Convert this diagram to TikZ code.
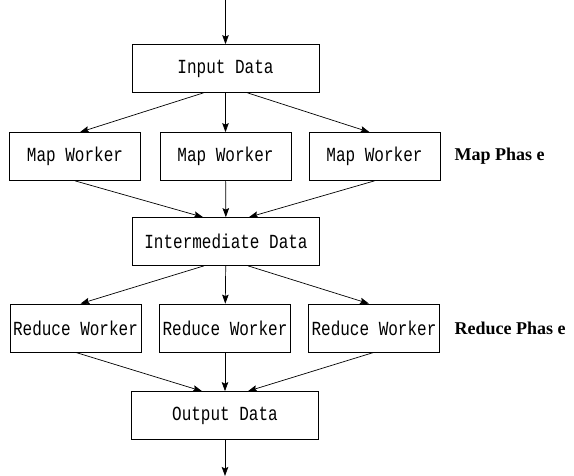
\documentclass[tikz,border=0pt]{standalone}
\usepackage{fontspec}
\usepackage{xcolor}
\usepackage{tikz}
\usetikzlibrary{arrows.meta}
\newfontfamily\boxfont[FakeStretch=0.8]{Liberation Mono}
\newfontfamily\phasefont{Liberation Serif}

\begin{document}
\begin{tikzpicture}[x=1pt, y=-1pt, >={Stealth[length=9pt,width=6.5pt,inset=1.5pt]}, line width=0.7pt]
					\useasboundingbox (0, 0) rectangle (574, 476);
					
					\begin{scope}[
						box/.style={align=center, draw, fill=white, rectangle, line width=0.7pt, inner sep=0pt, minimum height=48pt, font=\boxfont\fontsize{20}{20}\selectfont},
						datab/.style={box, minimum width=187pt},
						workb/.style={box, minimum width=131pt},
						phase/.style={anchor=west, font=\phasefont\bfseries\fontsize{18}{18}\selectfont}]
						\node[datab] (In) at (225.5, 68.5) {Input Data};
						\node[workb] (M1) at (75, 156.5) {Map Worker};
						\node[workb] (M2) at (225.5, 156.5) {Map Worker};
						\node[workb] (M3) at (374.5, 156.5) {Map Worker};
						\node[phase] (MP) at (451, 156.5) {Map Phas e};
						\node[datab] (Mid) at (226, 241.5) {Intermediate Data};
						\node[workb] (R1) at (75.5, 328) {Reduce Worker};
						\node[workb] (R2) at (225, 328) {Reduce Worker};
						\node[workb] (R3) at (374, 328) {Reduce Worker};
						\node[phase] (RP) at (451, 328) {Reduce Phas e};
						\node[datab] (Out) at (225, 415.5) {Output Data};
					\end{scope}
					
					\coordinate (Top) at (225.5, 0);
					\coordinate (Bot) at (225, 476);
					
					\draw[->] (Top) -- (In);
					\draw[->] ([xshift=-22pt]In.south) -- ([xshift=5pt]M1.north);
					\draw[->] (In) -- (M2);
					\draw[->] ([xshift=22pt]In.south) -- ([xshift=-5pt]M3.north);
					\draw[->] (M1.south) -- ([xshift=-23pt]Mid.north);
					\draw[->] (M2) -- (Mid);
					\draw[->] (M3.south) -- ([xshift=23pt]Mid.north);
					\draw[->] ([xshift=-22pt]Mid.south) -- ([xshift=5pt]R1.north);
					\draw[->] (Mid) -- (R2);
					\draw[->] ([xshift=22pt]Mid.south) -- ([xshift=-5pt]R3.north);
					\draw[->] (R1.south) -- ([xshift=-23pt]Out.north);
					\draw[->] (R2) -- (Out);
					\draw[->] (R3.south) -- ([xshift=23pt]Out.north);
					\draw[->] (Out) -- (Bot);
				\end{tikzpicture}
\end{document}
